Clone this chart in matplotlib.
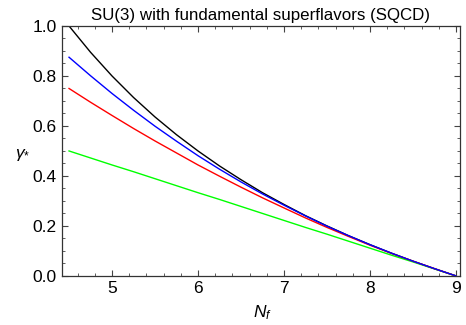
import matplotlib.pyplot as plt
from matplotlib.ticker import MultipleLocator

plt.rcParams['font.family'] = ['Liberation Sans', 'DejaVu Sans']
plt.rcParams['mathtext.fontset'] = 'custom'
plt.rcParams['mathtext.it'] = 'Liberation Sans:italic'
plt.rcParams['mathtext.rm'] = 'Liberation Sans'

nf = [4.5, 4.75, 5.0, 5.25, 5.5, 5.75, 6.0, 6.25, 6.5, 6.75,
      7.0, 7.25, 7.5, 7.75, 8.0, 8.25, 8.5, 8.75, 9.0]

# values
gamma_black = [1.000, 0.895, 0.800, 0.714, 0.636, 0.565, 0.500, 0.440, 0.385, 0.333,
               0.286, 0.241, 0.200, 0.161, 0.125, 0.091, 0.059, 0.029, 0.000]
gamma_blue = [0.875, 0.801, 0.730, 0.663, 0.599, 0.539, 0.481, 0.427, 0.376, 0.328,
              0.283, 0.240, 0.199, 0.161, 0.125, 0.091, 0.059, 0.029, 0.000]
gamma_red = [0.750, 0.695, 0.642, 0.590, 0.540, 0.492, 0.444, 0.399, 0.355, 0.3125,
             0.272, 0.232, 0.194, 0.158, 0.123, 0.090, 0.059, 0.029, 0.000]
gamma_green = [0.500, 0.472, 0.444, 0.417, 0.389, 0.361, 0.333, 0.306, 0.278, 0.250,
               0.222, 0.194, 0.167, 0.139, 0.111, 0.083, 0.056, 0.028, 0.000]

fig = plt.figure(figsize=(4.66, 3.25), dpi=100)
ax = fig.add_axes([0.133, 0.151, 0.854, 0.769])

ax.plot(nf, gamma_black, color='black', lw=1)
ax.plot(nf, gamma_green, color='#00ff00', lw=1)
ax.plot(nf, gamma_red, color='#ff0000', lw=1)
ax.plot(nf, gamma_blue, color='#0000ff', lw=1)

ax.set_xlim(4.418, 9.046)
ax.set_ylim(0, 1)
ax.xaxis.set_major_locator(MultipleLocator(1))
ax.xaxis.set_minor_locator(MultipleLocator(0.2))
ax.yaxis.set_major_locator(MultipleLocator(0.2))
ax.yaxis.set_minor_locator(MultipleLocator(0.05))
ax.yaxis.set_major_formatter(plt.FormatStrFormatter('%.1f'))
ax.tick_params(which='both', direction='in', top=True, right=True, labelsize=12.5, color='#444444')
ax.tick_params(which='major', length=4, width=0.8, pad=4)
ax.tick_params(which='minor', length=2, width=0.6)
for s in ax.spines.values():
    s.set_color('#333333')
    s.set_linewidth(0.9)

ax.set_title('SU(3) with fundamental superflavors (SQCD)', fontsize=12.2, pad=4)
ax.set_xlabel('$N_f$', fontsize=12.5, va='center')
ax.xaxis.set_label_coords(0.505, -0.145)
ax.set_ylabel(r'$\gamma_{*}$', fontsize=12.5, rotation=0, va='center', ha='center')
ax.yaxis.set_label_coords(-0.10, 0.484)

fig.savefig('out.png', dpi=100)
